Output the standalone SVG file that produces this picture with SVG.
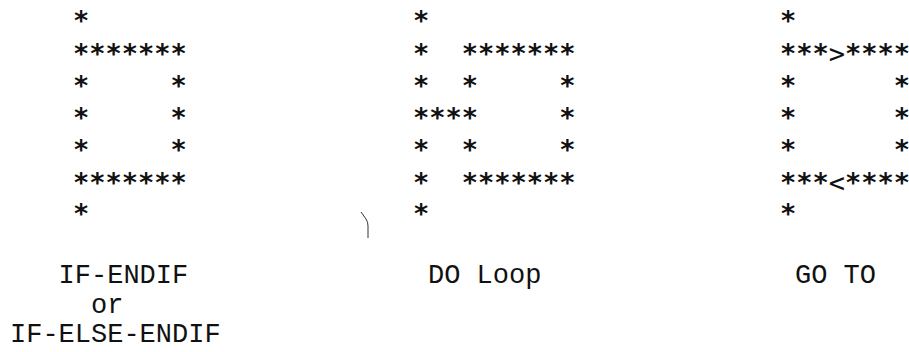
<svg xmlns="http://www.w3.org/2000/svg" width="909" height="352" viewBox="0 0 909 352">
<style>
text{font-family:"Liberation Mono","DejaVu Sans Mono",monospace;font-size:27px;fill:#111;white-space:pre}
.s{font-family:"DejaVu Sans Mono","Liberation Mono",monospace;font-size:27px;letter-spacing:0px;font-weight:bold}
.a{font-weight:normal}
</style>
<rect width="909" height="352" fill="#fff"/>
<g id="if-endif" xml:space="preserve">
<text class="s" x="73" y="30">*</text>
<text class="s" x="73" y="63">*******</text>
<text class="s" x="73" y="95">*     *</text>
<text class="s" x="73" y="127">*     *</text>
<text class="s" x="73" y="159">*     *</text>
<text class="s" x="73" y="192">*******</text>
<text class="s" x="73" y="223">*</text>
<text x="10" y="283">   IF-ENDIF</text>
<text x="10" y="313">     or</text>
<text x="10" y="342">IF-ELSE-ENDIF</text>
</g>
<g id="do-loop" xml:space="preserve">
<text class="s" x="413" y="30">*</text>
<text class="s" x="413" y="63">*  *******</text>
<text class="s" x="413" y="95">*  *     *</text>
<text class="s" x="413" y="127">****     *</text>
<text class="s" x="413" y="159">*  *     *</text>
<text class="s" x="413" y="192">*  *******</text>
<text class="s" x="413" y="223">*</text>
<text x="428" y="283">DO Loop</text>
</g>
<g id="go-to" xml:space="preserve">
<text class="s" x="780" y="30">*</text>
<text class="s" x="780" y="63">***<tspan class="a">&gt;</tspan>****</text>
<text class="s" x="780" y="95">*      *</text>
<text class="s" x="780" y="127">*      *</text>
<text class="s" x="780" y="159">*      *</text>
<text class="s" x="780" y="192">***<tspan class="a">&lt;</tspan>****</text>
<text class="s" x="780" y="223">*</text>
<text x="795" y="283">GO TO</text>
</g>
<path d="M361,212 L366,219 Q368,222 368,226 L368,238" fill="none" stroke="#333" stroke-width="1"/>
</svg>
